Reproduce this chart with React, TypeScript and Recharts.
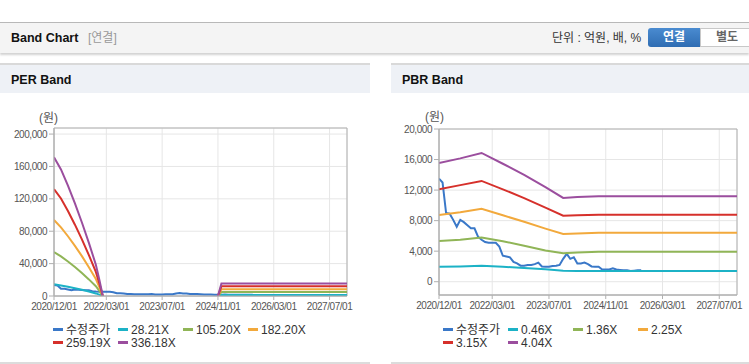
import React from 'react';
import { LineChart, Line, XAxis, YAxis, CartesianGrid, ReferenceArea } from 'recharts';

// x axis is month index counted from 2020/12
const tickMonths = [0, 15, 31, 47, 63, 79];
const tickLabels = ['2020/12/01', '2022/03/01', '2023/07/01', '2024/11/01', '2026/03/01', '2027/07/01'];

const priceMonths = [
  0, 1, 2, 3, 4, 5, 6, 7, 8, 9, 10, 11, 12, 13, 14, 15, 16, 17, 18, 19, 20, 21, 22, 23, 24, 25, 26, 27, 28,
  29, 30, 31, 32, 33, 34, 35, 36, 37, 38, 39, 40, 41, 42, 43, 44, 45, 46, 47, 48, 49, 50, 51, 52, 53, 54, 55,
  56, 57,
];
const priceValues = [
  13500, 13000, 9000, 8900, 8100, 7200, 8100, 7800, 7400, 7000, 7000, 5900, 5500, 5200, 5100, 5100, 5100, 4600,
  3400, 3300, 3200, 2600, 2400, 2100, 2100, 2200, 2200, 2300, 2500, 2000, 1950, 1950, 2050, 2100, 2200, 3000,
  3650, 3000, 3200, 2400, 2400, 2500, 2300, 2000, 1950, 1950, 1600, 1600, 1600, 1750, 1600, 1550, 1500, 1500,
  1400, 1450, 1500, 1500,
];

// PER band
const perMonths = [0, 2, 4, 6, 8, 10, 12, 13, 14, 30, 47, 48, 84];
const per28 = [14500, 13100, 11400, 9600, 7600, 5500, 3200, 1700, 0, null, 0, 1300, 1300];
const per105 = [54200, 48900, 42600, 35800, 28400, 20500, 12100, 6300, 0, null, 0, 4850, 4850];
const per182 = [93800, 84700, 73800, 61900, 49200, 35500, 21000, 10900, 0, null, 0, 8400, 8400];
const per259 = [132000, 120500, 105000, 88100, 70000, 50500, 29800, 15600, 0, null, 0, 11950, 11950];
const per336 = [171500, 156300, 136200, 114300, 90800, 65600, 38700, 20200, 0, null, 0, 15500, 15500];
const perNames = ['28.21X', '105.20X', '182.20X', '259.19X', '336.18X'];

// PBR band
const pbrMonths = [0, 6, 12, 18, 24, 30, 35, 39, 45, 84];
const pbr046 = [1960, 2000, 2080, 1950, 1800, 1620, 1450, 1400, 1400, 1400];
const pbr136 = [5320, 5500, 5800, 5300, 4700, 4100, 3720, 3840, 3920, 3920];
const pbr225 = [8720, 9100, 9550, 8700, 7850, 6950, 6250, 6320, 6420, 6420];
const pbr315 = [12120, 12650, 13200, 12100, 10950, 9700, 8650, 8700, 8780, 8780];
const pbr404 = [15550, 16150, 16860, 15450, 14000, 12400, 10980, 11100, 11200, 11200];
const pbrNames = ['0.46X', '1.36X', '2.25X', '3.15X', '4.04X'];

const priceName = '수정주가';
const priceColor = '#3a78c8';
const bandColors = ['#1cb2c6', '#90b557', '#f2a93c', '#d6302b', '#9b4e9e'];

const perTicks = [0, 40000, 80000, 120000, 160000, 200000];
const pbrTicks = [0, 4000, 8000, 12000, 16000, 20000];

const toRows = (months: number[], values: (number | null)[]) => months.map((m, i) => ({ m, v: values[i] }));

const baseFont = "'Liberation Sans', Arial, 'Noto Sans CJK KR', sans-serif";
const axisColor = '#b0b0b0';
const tickStyle = { fontSize: 10, fill: '#555', fontFamily: baseFont, letterSpacing: -0.45 };

interface BandProps {
  left: number;
  width: number;
  yWidth: number;
  marginTop: number;
  marginRight: number;
  marginBottom: number;
  domain: [number, number];
  ticks: number[];
  bands: (number | null)[][];
  bandMonths: number[];
}

function BandLines({ left, width, yWidth, marginTop, marginRight, marginBottom, domain, ticks, bands, bandMonths }: BandProps) {
  return (
    <div style={{ position: 'absolute', left, top: 100 }}>
      <LineChart width={width} height={230} margin={{ top: marginTop, right: marginRight, bottom: marginBottom, left: 0 }}>
        <CartesianGrid stroke="#e6e6e6" />
        <ReferenceArea x1={0} x2={84} y1={domain[0]} y2={domain[1]} fill="none" stroke={axisColor} ifOverflow="visible" />
        <XAxis
          type="number"
          dataKey="m"
          domain={[0, 84]}
          ticks={tickMonths}
          interval={0}
          tickFormatter={(v: number) => tickLabels[tickMonths.indexOf(v)] ?? ''}
          height={30}
          allowDataOverflow
          tick={tickStyle}
          tickSize={4}
          tickMargin={3}
          axisLine={{ stroke: axisColor }}
          tickLine={{ stroke: axisColor }}
        />
        <YAxis
          type="number"
          domain={domain}
          ticks={ticks}
          interval={0}
          width={yWidth}
          allowDataOverflow
          tickFormatter={(v: number) => v.toLocaleString('en-US')}
          tick={tickStyle}
          tickSize={5}
          tickMargin={2}
          axisLine={{ stroke: axisColor }}
          tickLine={{ stroke: axisColor }}
        />
        <Line
          data={toRows(priceMonths, priceValues)}
          dataKey="v"
          name={priceName}
          stroke={priceColor}
          strokeWidth={2}
          dot={false}
          activeDot={false}
          isAnimationActive={false}
        />
        {bands.map((vals, i) => (
          <Line
            key={i}
            data={toRows(bandMonths, vals)}
            dataKey="v"
            stroke={bandColors[i]}
            strokeWidth={2}
            dot={false}
            activeDot={false}
            isAnimationActive={false}
          />
        ))}
      </LineChart>
    </div>
  );
}

function LegendBox({ left, names }: { left: number; names: string[] }) {
  const items = [{ name: priceName, color: priceColor }, ...names.map((n, i) => ({ name: n, color: bandColors[i] }))];
  return (
    <div
      style={{
        position: 'absolute',
        left,
        top: 324,
        display: 'grid',
        gridTemplateColumns: 'repeat(4, 65px)',
        fontSize: 12,
        lineHeight: '12.6px',
        color: '#333',
        fontFamily: baseFont,
      }}
    >
      {items.map((it) => (
        <div key={it.name} style={{ whiteSpace: 'nowrap' }}>
          <span
            style={{
              display: 'inline-block',
              width: 10,
              height: 3,
              background: it.color,
              verticalAlign: 'middle',
              marginRight: 3,
              position: 'relative',
              top: -1,
            }}
          />
          {it.name}
        </div>
      ))}
    </div>
  );
}

function Panel({ left, width, title }: { left: number; width: number; title: string }) {
  return (
    <div
      style={{
        position: 'absolute',
        left,
        top: 63,
        width,
        height: 297,
        borderTop: '2px solid #d9d9d9',
        borderBottom: '2px solid #dcdcdc',
        background: '#fff',
      }}
    >
      <div
        style={{
          height: 28,
          background: '#eef1f6',
          fontSize: 12.5,
          fontWeight: 'bold',
          lineHeight: '30px',
          paddingLeft: 11,
          color: '#111',
        }}
      >
        {title}
      </div>
    </div>
  );
}

export default function App() {
  return (
    <div
      style={{
        position: 'absolute',
        left: 0,
        top: 0,
        width: 749,
        height: 364,
        background: '#fff',
        overflow: 'hidden',
        fontFamily: baseFont,
      }}
    >
      <div
        style={{
          position: 'absolute',
          left: 0,
          top: 22,
          width: 749,
          height: 30,
          borderTop: '1px solid #b8b8b8',
          background: '#f4f4f4',
          boxShadow: '0 2px 2px rgba(0,0,0,0.18)',
        }}
      >
        <span style={{ position: 'absolute', left: 11, top: 0, lineHeight: '31px', fontSize: 12.5, fontWeight: 'bold', color: '#111' }}>
          Band Chart
        </span>
        <span style={{ position: 'absolute', left: 88, top: 0, lineHeight: '31px', fontSize: 12, color: '#999' }}>[연결]</span>
        <span style={{ position: 'absolute', left: 552, top: 0, lineHeight: '31px', fontSize: 12, color: '#333' }}>
          단위 : 억원, 배, %
        </span>
        <div
          style={{
            position: 'absolute',
            left: 648,
            top: 5,
            width: 52,
            height: 19,
            background: 'linear-gradient(#4a8bd0, #2f6db3)',
            borderRadius: '3px 0 0 3px',
            color: '#fff',
            fontWeight: 'bold',
            fontSize: 12,
            lineHeight: '19px',
            textAlign: 'center',
          }}
        >
          연결
        </div>
        <div
          style={{
            position: 'absolute',
            left: 700,
            top: 5,
            width: 52,
            height: 17,
            background: '#fff',
            border: '1px solid #c8c8c8',
            color: '#666',
            fontWeight: 'bold',
            fontSize: 12,
            lineHeight: '17px',
            textAlign: 'center',
          }}
        >
          별도
        </div>
      </div>

      <Panel left={0} width={370} title="PER Band" />
      <Panel left={391} width={358} title="PBR Band" />

      <span style={{ position: 'absolute', left: 39, top: 108, fontSize: 12, color: '#555' }}>(원)</span>
      <span style={{ position: 'absolute', left: 425, top: 107, fontSize: 12, color: '#555' }}>(원)</span>

      <BandLines
        left={0}
        width={370}
        yWidth={54}
        marginTop={28}
        marginRight={23}
        marginBottom={4}
        domain={[0, 207500]}
        ticks={perTicks}
        bands={[per28, per105, per182, per259, per336]}
        bandMonths={perMonths}
      />
      <BandLines
        left={391}
        width={358}
        yWidth={48}
        marginTop={29}
        marginRight={12}
        marginBottom={5}
        domain={[-1740, 20000]}
        ticks={pbrTicks}
        bands={[pbr046, pbr136, pbr225, pbr315, pbr404]}
        bandMonths={pbrMonths}
      />

      <LegendBox left={53} names={perNames} />
      <LegendBox left={443} names={pbrNames} />
    </div>
  );
}
